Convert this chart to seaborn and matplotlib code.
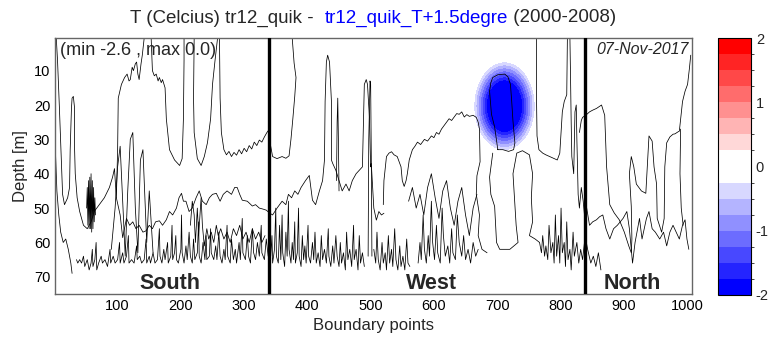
import numpy as np
import pandas as pd
import matplotlib
matplotlib.use("Agg")
import matplotlib.pyplot as plt
from matplotlib.colors import ListedColormap, BoundaryNorm
import matplotlib.cm as cm
import seaborn as sns

# ---------------- data ----------------
title_black1 = "T (Celcius) tr12_quik -  "
title_blue = "tr12_quik_T+1.5degre"
title_black2 = " (2000-2008)"
stats_text = "(min -2.6 , max 0.0)"
date_text = "07-Nov-2017"
section_names = ["South", "West", "North"]
section_centers = [182, 596, 914]
section_bounds = [340, 839]
x_ticks = [100, 200, 300, 400, 500, 600, 700, 800, 900, 1000]
y_ticks = [10, 20, 30, 40, 50, 60, 70]
cbar_ticks = [-2, -1, 0, 1, 2]
levels = [-2, -1.75, -1.5, -1.25, -1, -0.75, -0.5, -0.25, 0,
          0.25, 0.5, 0.75, 1, 1.25, 1.5, 1.75, 2]
level_colors = ["#0000ff", "#2424ff", "#4848ff", "#6c6cff", "#9090ff", "#b4b4ff", "#d8d8ff",
                "#ffffff", "#ffffff",
                "#ffd8d8", "#ffb4b4", "#ff9090", "#ff6c6c", "#ff4848", "#ff2424", "#ff0000"]

# temperature-difference anomaly: centre, half-widths, and radial profile read from the rings
blob_center_x = 711.5
blob_center_d = 20.3
blob_halfwidth_x = 47.5
blob_halfwidth_d = 12.8
blob_r = [0.0, 0.3, 0.52, 1.0, 1.12, 3.0]
blob_v = [-2.6, -2.4, -2.0, -0.25, 0.0, 0.0]

# contour lines (boundary point, depth)
line_s0 = [(1, 24), (2, 35), (4, 45), (7, 52), (10, 57), (14, 60), (18, 59), (22, 62), (26, 66), (28, 69)]
line_s1 = [(3, 0.5), (5, 7), (8, 21), (11, 36), (13, 46), (16, 49), (21, 47), (24, 44), (25, 33), (27, 21),
           (28, 18), (30, 17.5), (32, 21), (32, 33), (33, 40), (36, 47), (40, 51), (46, 55), (52, 56),
           (58, 54), (63, 51), (71, 49), (79, 47), (87, 44), (92, 41), (95, 38.5), (98, 47), (100, 33),
           (101, 18), (106, 14), (111, 12), (115, 11), (118, 13), (120, 12.6), (123, 9), (125, 10),
           (128, 8), (130, 7.5), (132, 11), (134, 12.6), (137, 8), (139, 5.5), (142, 0.5)]
line_s2 = [(153, 0.5), (155, 10), (158, 11.5), (161, 11), (164, 13), (166, 12), (169, 13.5), (171, 12.6),
           (175, 15), (177, 24), (182, 33), (190, 36), (198, 37.6), (202, 35.6), (204, 24), (205, 7), (205, 0.5)]
line_s3 = [(221, 0.5), (220, 18), (221, 28), (226, 35.6), (232, 37.6), (237, 35), (242, 31), (247, 24),
           (250, 14), (254, 7), (258, 0.5)]
line_s4 = [(261, 0.5), (262, 18), (264, 28), (268, 33), (272, 34.5), (276, 33.5), (280, 35), (284, 33.8),
           (288, 34.6), (292, 33), (296, 34.2), (300, 32.6), (304, 33.6), (308, 31.8), (312, 32.8),
           (316, 30.8), (320, 31.8), (324, 30.2), (328, 30.8), (332, 29.3), (336, 28), (338, 27.5),
           (340, 30), (345, 35), (352, 35.6), (360, 35), (366, 35.5), (371, 34.8), (374, 30), (377, 24),
           (380, 17.5), (382, 12), (379, 7.8), (376, 0.5)]
line_mid = [(98, 47), (104, 52), (108, 58.6), (114, 53), (119, 55), (124, 54), (129, 56), (134, 55),
            (140, 57), (145, 56.6), (150, 55), (155, 56), (160, 54), (166, 53.7), (171, 55), (177, 53.4),
            (182, 51), (187, 52), (193, 50), (197, 47), (201, 45.7), (204, 48), (208, 48), (213, 51),
            (218, 50), (224, 47), (229, 45), (234, 48), (240, 49), (245, 47), (250, 46), (256, 45.7),
            (262, 48), (267, 46), (273, 45), (280, 46), (285, 44), (289, 44), (293, 46), (297, 47.7),
            (305, 48), (313, 49.4), (318, 49), (324, 50), (330, 50.3), (335, 50.6), (340, 51.4),
            (345, 52), (352, 50), (360, 48), (366, 49), (370, 46), (375, 47), (380, 45), (385, 46),
            (390, 44), (397, 42), (403, 40.5), (408, 47.7), (413, 49), (419, 45), (424, 42), (427, 36),
            (428, 19), (430, 7.5), (432, 5.5), (435, 7.5), (438, 19), (438, 36), (440, 37), (445, 39),
            (450, 42), (455, 45), (461, 43), (466, 45), (471, 42), (477, 40), (482, 39), (487, 38),
            (490, 14), (493, 12.6), (495, 14), (498, 23.5), (500, 38), (501, 37), (505, 50), (509, 53.5),
            (513, 51), (517, 52), (521, 51.5)]
line_s_tongues = [(90, 62), (96, 50), (100, 38), (104, 32), (108, 48), (112, 64), (116, 45), (120, 30),
                  (124, 28), (128, 50), (132, 63), (136, 36), (140, 33), (146, 60), (150, 45), (156, 63)]
line_e = [(520, 49), (521, 42), (525, 35), (529, 34), (533, 33.6), (537, 34.5), (542, 35), (546, 37),
          (548, 38), (550, 42), (553, 43.7), (556, 42), (558, 40), (561, 36), (566, 33), (570, 32),
          (574, 30.8), (579, 31.5), (585, 30), (590, 30.5), (596, 29), (600, 29.5), (604, 28), (608, 28.5),
          (612, 27), (618, 25.5), (624, 24), (628, 24.5), (632, 23.5), (636, 22.5), (640, 22.7), (644, 22),
          (648, 23.5), (652, 22.8), (656, 23.3), (662, 23), (667, 23.6), (670, 25), (672, 27), (673, 36.5),
          (668, 40.6), (667, 46), (672, 52), (670, 58), (676, 62), (684, 63)]
line_w_mid = [(560, 48), (566, 44), (572, 50), (578, 46), (584, 52), (590, 44), (596, 40), (602, 47),
              (608, 53), (614, 45), (620, 42), (626, 50), (632, 55), (638, 48), (644, 44), (650, 52),
              (656, 58), (662, 50), (668, 46)]
line_w_v0 = [(446, 42), (447, 25), (448, 18), (449, 30), (450, 45)]
line_w_v1 = [(496, 64), (497, 30), (499, 13), (500, 14), (501, 35), (502, 64)]
line_blob = [(701, 33), (696, 26.4), (691, 22.7), (688, 16), (690, 13.5), (693, 12), (701, 11.2),
             (712, 11), (717, 11.8), (721, 14), (723, 19), (725, 24.7), (728, 31), (726, 33),
             (718, 33.5), (709, 33), (701, 33)]
loop_b1 = [(693, 34), (688, 41), (690, 46), (696, 49.5), (699, 60), (704, 62), (712, 62), (720, 62),
           (733, 60), (730, 55), (728, 49), (725, 40), (731, 34), (740, 33.3), (751, 34.5), (756, 40),
           (754, 47), (756, 54), (751, 58), (760, 59), (767, 60)]
line_u_r = [(762, 0.5), (762, 15), (763, 29), (766, 33), (772, 34), (777, 34.5), (783, 35), (789, 35.5),
            (795, 36), (799, 34), (801, 28), (803, 22), (806, 19), (810, 17), (811, 0.5)]
line_v2 = [(815, 0.5), (816, 12), (817, 25), (818, 35), (821, 40), (823, 22), (825, 20), (826, 30),
           (828, 46), (830, 50), (833, 44), (836, 48), (838, 52)]
line_n1 = [(830, 28), (833, 24.5), (835, 23.6), (840, 23), (846, 22), (851, 21.5), (857, 21), (861, 20.5),
           (865, 20), (870, 23), (873, 38), (878, 49), (885, 51.4), (893, 53.4), (901, 57), (908, 61),
           (912, 63), (913, 59), (912, 49.5), (909, 40), (912, 35), (916, 38), (920, 43), (928, 45),
           (935, 45.7), (940, 29), (945, 30.5), (948, 38), (952, 43), (953, 53), (960, 57), (964, 53),
           (965, 38), (968, 31), (973, 29.3), (978, 28.5), (981, 28.4), (986, 27.8), (988, 27.6),
           (993, 19), (997, 16), (1001, 14), (1004, 9.2), (1006, 5.5)]
line_n2 = [(841, 49.4), (846, 55), (851, 54), (857, 53.4), (862, 52.5), (867, 52), (872, 56), (878, 59),
           (884, 56), (890, 55), (899, 53), (905, 51), (909, 56), (914, 66), (918, 60), (925, 53),
           (929, 59), (936, 53), (940, 51), (945, 56), (950, 57), (957, 59), (963, 57), (968, 61),
           (973, 57), (978, 55), (983, 57), (988, 59), (993, 55), (997, 53.4), (1000, 59), (1003, 62)]
line_n3 = [(990, 27), (989, 40), (991, 50), (994, 55)]
line_n_small = [(839, 58), (843, 62), (848, 66), (852, 64), (856, 67), (860, 63), (864, 68)]
spindle = [(51, 50), (52, 44), (53, 55), (54, 42), (55, 56), (56, 41), (57, 56), (58, 40), (59, 57),
           (60, 42), (61, 56), (62, 44), (63, 54), (64, 47), (65, 52)]
low_south = [(35, 65), (37, 66), (40, 65), (43, 66), (46, 64), (48, 67), (52, 65), (55, 68), (58, 66),
             (60, 62), (61, 67), (64, 65), (66, 60), (67, 68), (70, 66), (74, 64), (76, 66), (80, 65),
             (84, 67), (88, 62), (89, 66), (93, 64), (96, 66), (100, 65), (103, 60), (104, 66), (108, 63),
             (110, 66), (114, 64), (117, 58), (118, 66), (122, 65), (126, 66), (130, 61), (131, 65),
             (135, 64), (138, 66), (142, 65), (145, 59), (146, 66), (150, 64), (152, 66), (156, 63),
             (159, 66), (163, 65), (166, 56), (167, 64), (170, 66), (173, 62), (175, 65), (179, 60),
             (180, 66), (184, 64), (186, 55), (187, 65), (190, 63), (192, 58), (193, 65), (196, 66),
             (200, 62), (201, 52), (202, 63), (205, 66), (208, 61), (210, 65), (213, 57), (215, 64),
             (218, 66), (220, 59), (222, 65), (226, 63), (228, 54), (229, 64), (232, 66), (235, 60),
             (238, 65), (240, 58), (241, 65), (245, 64), (247, 56), (248, 63), (252, 65), (255, 61),
             (257, 65), (260, 57), (262, 64), (265, 66), (268, 62), (270, 65), (273, 55), (274, 64),
             (278, 66), (280, 59), (283, 65), (286, 62), (288, 66), (292, 60), (294, 65), (297, 53),
             (298, 63), (302, 65), (305, 58), (307, 64), (310, 66), (313, 56), (315, 63), (318, 65),
             (321, 60), (324, 64), (327, 55), (328, 63), (332, 65), (335, 59), (338, 64)]
mid_south = [(215, 55), (218, 48), (221, 52), (223, 60), (226, 50), (228, 58), (232, 47), (234, 55),
             (237, 61), (241, 56), (244, 59), (248, 57), (252, 60), (256, 55), (259, 58), (263, 56),
             (268, 59), (273, 57), (278, 60), (283, 56), (288, 58), (293, 55), (298, 59), (303, 57),
             (308, 60), (313, 56), (318, 59), (323, 57), (328, 60), (333, 58)]
low_west1 = [(342, 64), (344, 58), (345, 66), (348, 62), (350, 50), (351, 64), (354, 66), (356, 55),
             (358, 65), (360, 52), (361, 63), (364, 67), (366, 57), (368, 64), (370, 48), (371, 62),
             (374, 66), (376, 60), (378, 65), (380, 54), (381, 66), (384, 63), (386, 50), (387, 64),
             (390, 67), (392, 58), (394, 65), (396, 61), (398, 66), (401, 55), (402, 64), (405, 66),
             (408, 60), (410, 65), (412, 57), (414, 66), (417, 63), (420, 67), (422, 58), (424, 65),
             (427, 62), (430, 66), (433, 56), (434, 64), (437, 67), (440, 61), (442, 66), (445, 58),
             (447, 64), (450, 67), (452, 60), (454, 66), (457, 63), (460, 68), (462, 57), (464, 65),
             (467, 62), (470, 67), (473, 55), (474, 65), (477, 62), (480, 68), (482, 58), (484, 66),
             (487, 63), (490, 67)]
low_west2 = [(505, 62), (508, 66), (510, 57), (512, 65), (515, 68), (518, 60), (520, 66), (523, 63),
             (525, 68), (528, 58), (530, 66), (533, 62), (535, 67), (538, 56), (540, 65), (543, 68),
             (546, 61), (548, 67), (551, 64), (554, 68), (557, 59), (559, 66), (562, 67)]
low_west3 = [(575, 66), (578, 60), (580, 65), (583, 52), (585, 62), (588, 66), (591, 58), (593, 64),
             (596, 48), (598, 60), (601, 65), (604, 55), (606, 63), (610, 66), (613, 50), (615, 58),
             (618, 64), (622, 61), (625, 66), (628, 56), (630, 63), (634, 65), (637, 52), (640, 60),
             (644, 64), (647, 58), (650, 65), (654, 62), (658, 66), (662, 60), (666, 64), (670, 62)]
low_west4 = [(767, 60), (770, 63), (772, 58), (775, 64), (777, 61), (780, 65), (782, 55), (785, 63),
             (788, 60), (790, 66), (792, 52), (794, 64), (797, 58), (799, 66), (801, 50), (803, 63),
             (806, 60), (808, 67), (810, 54), (812, 65), (815, 62), (817, 68), (820, 57), (822, 64),
             (826, 60), (829, 66), (832, 62), (835, 65), (838, 60)]

# ---------------- figure ----------------
sns.set_style("white")
plt.rcParams["font.family"] = ["Liberation Sans", "DejaVu Sans"]

fig = plt.figure(figsize=(7.7, 3.44), dpi=100)
ax = fig.add_axes([55 / 770, 50 / 344, 637 / 770, 256 / 344])
cax = fig.add_axes([718 / 770, 49 / 344, 33 / 770, 257 / 344])

cmap = ListedColormap(level_colors)
cmap.set_under("#0000ff")
cmap.set_over("#ff0000")
norm = BoundaryNorm(levels, cmap.N)

# rasterise the radial anomaly profile onto a grid around the blob
gx = np.linspace(blob_center_x - 2.2 * blob_halfwidth_x, blob_center_x + 2.2 * blob_halfwidth_x, 200)
gd = np.linspace(max(0.0, blob_center_d - 2.2 * blob_halfwidth_d), blob_center_d + 2.2 * blob_halfwidth_d, 160)
GX, GD = np.meshgrid(gx, gd)
R = np.sqrt(((GX - blob_center_x) / blob_halfwidth_x) ** 2 + ((GD - blob_center_d) / blob_halfwidth_d) ** 2)
field = np.interp(R, blob_r, blob_v)
ax.imshow(field, extent=[gx[0], gx[-1], gd[-1], gd[0]], origin="upper", aspect="auto",
          interpolation="bilinear", interpolation_stage="data", cmap=cmap, norm=norm, zorder=0)

all_lines = [line_s0, line_s1, line_s2, line_s3, line_s4, line_mid, line_s_tongues, line_e,
             line_w_mid, line_w_v0, line_w_v1, line_blob, loop_b1, line_u_r, line_v2,
             line_n1, line_n2, line_n3, line_n_small, spindle, low_south, mid_south,
             low_west1, low_west2, low_west3, low_west4]

for i, pts in enumerate(all_lines):
    df = pd.DataFrame(pts, columns=["x", "depth"])
    sns.lineplot(data=df, x="x", y="depth", sort=False, estimator=None, color="black",
                 linewidth=0.55, ax=ax, legend=False, zorder=2)

for xb in section_bounds:
    ax.axvline(xb, color="black", linewidth=2.4, zorder=3)

ax.set_xlim(1, 1008)
ax.set_ylim(75, 0.5)
ax.set_xticks(x_ticks)
ax.set_yticks(y_ticks)
ax.tick_params(direction="in", length=3, labelsize=10.5, colors="black", width=0.6)
ax.set_xlabel("Boundary points", fontsize=12, labelpad=4)
ax.set_ylabel("Depth [m]", fontsize=12, labelpad=4)
for sp in ax.spines.values():
    sp.set_color("#666666")
    sp.set_linewidth(1.0)

ax.text(0.008, 0.985, stats_text, transform=ax.transAxes, ha="left", va="top", fontsize=13)
ax.text(0.995, 0.985, date_text, transform=ax.transAxes, ha="right", va="top", fontsize=11.5,
        style="italic")
for name, xc in zip(section_names, section_centers):
    ax.text(xc, 73.6, name, ha="center", va="baseline", fontsize=15.5, fontweight="bold")

sm = cm.ScalarMappable(norm=norm, cmap=cmap)
cb = fig.colorbar(sm, cax=cax, ticks=cbar_ticks, spacing="proportional")
cb.ax.tick_params(direction="in", length=3, labelsize=10.5, width=0.6)
cb.outline.set_color("black")
cb.outline.set_linewidth(0.8)
cb.ax.set_yticklabels([str(t) for t in cbar_ticks])

ty = 1 - 18 / 344
t1 = fig.text(0, ty, title_black1, fontsize=13.5, ha="left", va="center")
t2 = fig.text(0, ty, title_blue, fontsize=13.5, color="#0000ff", ha="left", va="center")
t3 = fig.text(0, ty, title_black2, fontsize=13.5, ha="left", va="center")
fig.canvas.draw()
r = fig.canvas.get_renderer()
w1 = t1.get_window_extent(r).width
w2 = t2.get_window_extent(r).width
w3 = t3.get_window_extent(r).width
start = 373 - (w1 + w2 + w3) / 2
t1.set_x(start / 770)
t2.set_x((start + w1) / 770)
t3.set_x((start + w1 + w2) / 770)

fig.savefig("out.png", dpi=100)
